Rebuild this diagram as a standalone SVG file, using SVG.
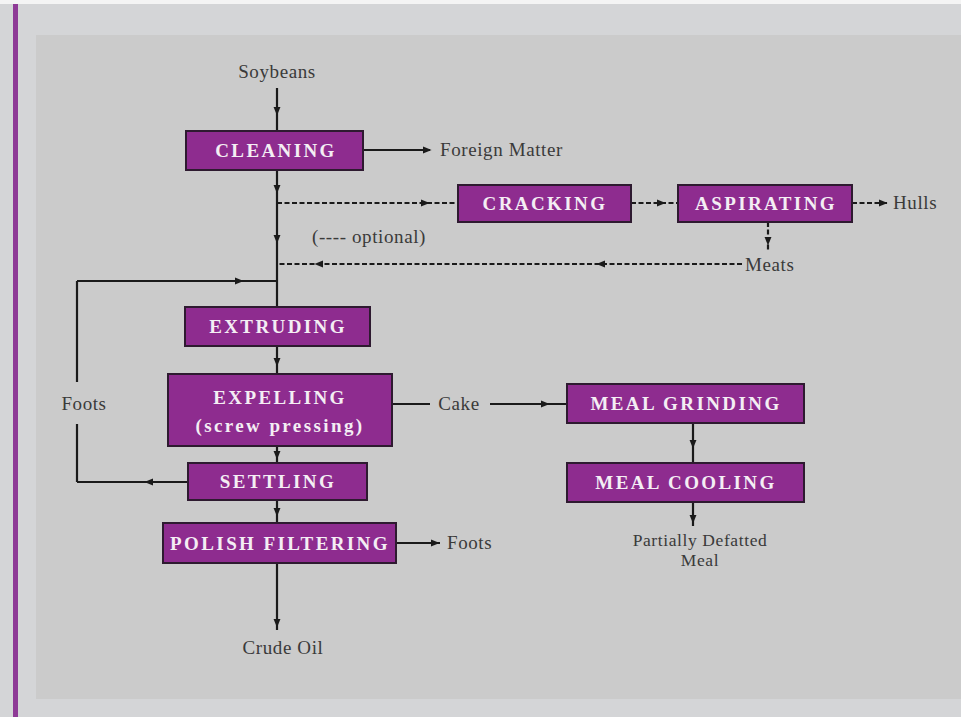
<svg xmlns="http://www.w3.org/2000/svg" width="961" height="717" viewBox="0 0 961 717">
<defs>
<marker id="ah" viewBox="0 0 10 10" refX="6" refY="5" markerWidth="9" markerHeight="9" markerUnits="userSpaceOnUse" orient="auto">
<path d="M0,1 L10,5 L0,9 Z" fill="#1a1a1a"/>
</marker>
<style>
.box{fill:#8e2c8f;stroke:#2e1a30;stroke-width:2}
.bt{font-family:"Liberation Serif",serif;font-weight:bold;font-size:19px;fill:#f4eef4;text-anchor:middle;letter-spacing:2.4px}
.lb{font-family:"Liberation Serif",serif;font-size:19px;fill:#3a3a3a;letter-spacing:0.6px}
.ln{fill:none;stroke:#1a1a1a;stroke-width:2.2;marker-mid:url(#ah)}
.dl{fill:none;stroke:#1a1a1a;stroke-width:2.2;stroke-dasharray:5 2.5;marker-mid:url(#ah)}
.pl{fill:none;stroke:#1a1a1a;stroke-width:2.2}
</style>
</defs>
<rect width="961" height="717" fill="#d4d5d7"/>
<rect x="0" y="0" width="961" height="4" fill="#f4f4f4"/>
<rect x="13" y="4" width="5" height="713" fill="#8e3a96"/>
<rect x="36" y="35" width="925" height="664" fill="#cbcbcb"/>

<g id="connectors">
<path class="ln" d="M277,88 L277,112 L277,131"/>
<path class="ln" d="M363,150 L428,150 L430,150"/>
<path class="ln" d="M277,170 L277,190 L277,240 L277,307"/>
<path class="dl" d="M277,203 L426,203 L458,203"/>
<path class="dl" d="M631,203 L662,203 L678,203"/>
<path class="dl" d="M852,203 L884,203 L888,203"/>
<path class="dl" d="M768,222 L768,242 L768,250"/>
<path class="dl" d="M742,264 L600,264 L318,264 L277,264"/>
<path class="ln" d="M277,346 L277,363 L277,374"/>
<path class="ln" d="M277,446 L277,456 L277,463"/>
<path class="ln" d="M277,500 L277,513 L277,523"/>
<path class="ln" d="M277,563 L277,624 L277,630"/>
<path class="ln" d="M396,543 L436,543 L440,543"/>
<path class="pl" d="M392,404 L430,404"/>
<path class="ln" d="M490,404 L546,404 L567,404"/>
<path class="ln" d="M693,423 L693,445 L693,463"/>
<path class="ln" d="M693,502 L693,520 L693,526"/>
<path class="ln" d="M188,482 L148,482 L77,482"/>
<path class="pl" d="M77,482 L77,424"/>
<path class="pl" d="M77,382 L77,281"/>
<path class="ln" d="M77,281 L240,281 L277,281"/>
</g>

<g id="lbl-soybeans"><text class="lb" x="277" y="78" text-anchor="middle">Soybeans</text></g>
<g id="lbl-foreign"><text class="lb" x="440" y="156">Foreign Matter</text></g>
<g id="lbl-optional"><text class="lb" x="312" y="243">(---- optional)</text></g>
<g id="lbl-hulls"><text class="lb" x="893" y="209">Hulls</text></g>
<g id="lbl-meats"><text class="lb" x="745" y="271">Meats</text></g>
<g id="lbl-foots1"><text class="lb" x="84" y="410" text-anchor="middle">Foots</text></g>
<g id="lbl-cake"><text class="lb" x="459" y="410" text-anchor="middle">Cake</text></g>
<g id="lbl-foots2"><text class="lb" x="447" y="549">Foots</text></g>
<g id="lbl-crude"><text class="lb" x="283" y="654" text-anchor="middle">Crude Oil</text></g>
<g id="lbl-meal"><text class="lb" x="700" y="546" text-anchor="middle" style="font-size:17.5px">Partially Defatted</text><text class="lb" x="700" y="566" text-anchor="middle" style="font-size:17.5px">Meal</text></g>

<g id="cleaning"><rect class="box" x="186" y="131" width="177" height="39"/><text class="bt" x="276" y="157">CLEANING</text></g>
<g id="cracking"><rect class="box" x="458" y="185" width="173" height="37"/><text class="bt" x="545" y="210">CRACKING</text></g>
<g id="aspirating"><rect class="box" x="678" y="185" width="174" height="37"/><text class="bt" x="766" y="210">ASPIRATING</text></g>
<g id="extruding"><rect class="box" x="185" y="307" width="185" height="39"/><text class="bt" x="278" y="333">EXTRUDING</text></g>
<g id="expelling"><rect class="box" x="168" y="374" width="224" height="72"/><text class="bt" x="280" y="404">EXPELLING</text><text class="bt" x="280" y="432">(screw pressing)</text></g>
<g id="settling"><rect class="box" x="188" y="463" width="179" height="37"/><text class="bt" x="278" y="488">SETTLING</text></g>
<g id="polish"><rect class="box" x="163" y="523" width="233" height="40"/><text class="bt" x="280" y="550">POLISH FILTERING</text></g>
<g id="grinding"><rect class="box" x="567" y="384" width="237" height="39"/><text class="bt" x="686" y="410">MEAL GRINDING</text></g>
<g id="cooling"><rect class="box" x="567" y="463" width="237" height="39"/><text class="bt" x="686" y="489">MEAL COOLING</text></g>
</svg>
